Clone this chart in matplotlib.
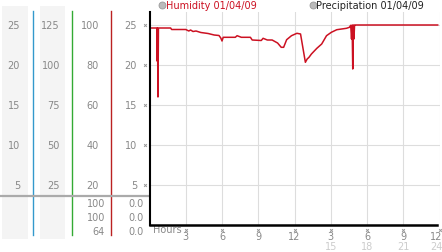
import numpy as np
import matplotlib

matplotlib.use("Agg")
import matplotlib.pyplot as plt
from matplotlib import transforms
from matplotlib.patches import Rectangle

# humidity trace for 01/04/09 (hours since midnight, percent)
hours = [0.1, 0.6, 0.62, 0.66, 0.7, 0.74, 1.75, 1.83, 3.0, 3.25, 3.4, 3.6,
         3.85, 4.25, 4.85, 5.35, 5.75, 5.9, 6.0, 6.1, 7.1, 7.25, 7.6, 8.35,
         8.5, 9.25, 9.4, 9.75, 10.15, 10.6, 10.9, 11.1, 11.35, 11.75, 12.2,
         12.5, 12.9, 13.05, 13.2, 13.4, 13.85, 14.25, 14.65, 15.05, 15.5,
         16.3, 16.55, 16.65, 16.72, 16.77, 16.82, 16.87, 16.92, 16.97, 17.0,
         23.85]
humidity = [98.5, 98.5, 82, 98.5, 64, 98.5, 98.5, 97.75, 97.75, 97, 97.5, 96.75,
            97, 96.25, 95.75, 95, 94.75, 93.5, 92, 93.85, 93.85, 94.65, 93.85, 93.85,
            92.5, 92.25, 93.35, 92.5, 92.5, 91, 88.85, 88.85, 92.65, 94.65, 95.85,
            95.5, 81.35, 83, 83.85, 85.5, 88.35, 90.5, 94.65, 96.35, 97.65,
            98.35, 98.85, 99.85, 93, 100, 78, 100, 93, 100, 100,
            100]

# scale columns on the left, top to bottom
temp_scale = [25, 20, 15, 10, 5]
press_scale = [125, 100, 75, 50, 25]
hum_scale = [100, 80, 60, 40, 20]
main_scale = [25, 20, 15, 10, 5]

# summary rows under the separator
hum_stats = ['100', '100', '64']
rain_stats = ['0.0', '0.0', '0.0']

x_ticks = [3, 6, 9, 12, 15, 18, 21, 24]
x_labels = ['3', '6', '9', '12', '3', '6', '9', '12']
x_ticks_pm = [15, 18, 21, 24]

W, H = 442, 253
GREY = '#888888'
RED = '#cc1122'
FS = 7

fig = plt.figure(figsize=(W / 100, H / 100), dpi=100)

# pixel layer for the side scales
bg = fig.add_axes([0, 0, 1, 1])
bg.set_xlim(0, W)
bg.set_ylim(H, 0)
bg.axis('off')

ax = fig.add_axes([149.5 / W, (H - 226) / H, 290 / W, 213 / H])
ax.set_xlim(0, 24)
ax.set_ylim(0, 106.5)
ax.patch.set_alpha(0)

ytr = transforms.blended_transform_factory(bg.transData, ax.transData)
xtr = transforms.blended_transform_factory(ax.transData, bg.transData)

# shaded columns and coloured scale lines
for x0, x1 in [(2, 28), (40, 65)]:
    bg.add_patch(Rectangle((x0, 7), x1 - x0, 233, color='#f4f4f4', lw=0))
for x, c in [(33, '#3399cc'), (72, '#33aa33'), (111, '#bb2222')]:
    bg.plot([x, x], [12, 236], color=c, lw=1)
bg.plot([0, 149], [197, 197], color='#aaaaaa', lw=1.6)

for vals, xr in [(temp_scale, 20), (press_scale, 60), (hum_scale, 99), (main_scale, 137)]:
    for pos, v in zip(hum_scale, vals):
        bg.text(xr, pos, str(v), transform=ytr, ha='right', va='center',
                fontsize=FS, color=GREY)
ax.plot([-4.5 / 290 * 24] * len(hum_scale), hum_scale, 'x', ms=2, mew=0.7,
        color='#999999', clip_on=False)

for i, (h, r) in enumerate(zip(hum_stats, rain_stats)):
    y = 204 + i * 14
    bg.text(105, y, h, ha='right', va='center', fontsize=FS, color=GREY)
    bg.text(144, y, r, ha='right', va='center', fontsize=FS, color=GREY)

# legend
bg.plot([162], [6], 'o', ms=5, mfc='#bbbbbb', mec='#999999', mew=0.6)
bg.text(166, 6, 'Humidity 01/04/09', va='center', fontsize=FS, color=RED)
bg.plot([313], [6], 'o', ms=5, mfc='#bbbbbb', mec='#999999', mew=0.6)
bg.text(316, 6, 'Precipitation 01/04/09', va='center', fontsize=FS, color='#222222')

# main plot
ax.plot(hours, humidity, color=RED, lw=1.1, clip_on=False)
ax.set_xticks(x_ticks)
ax.set_yticks(hum_scale)
ax.set_xticklabels([])
ax.set_yticklabels([])
ax.tick_params(length=0)
ax.grid(True, color='#dddddd', lw=0.8)
ax.set_axisbelow(True)
for s in ['top', 'right']:
    ax.spines[s].set_visible(False)
ax.spines['left'].set_linewidth(1.5)
ax.spines['bottom'].set_linewidth(1.8)
ax.spines['bottom'].set_bounds(0, 23.8)

for t, lab in zip(x_ticks, x_labels):
    ha = 'right' if t == 24 else 'center'
    ax.text(t + (0.25 if t == 24 else 0), 237, lab, transform=xtr, ha=ha, va='center',
            fontsize=FS, color=GREY)
    ax.plot([t], [231], 'x', ms=2, mew=0.7, color='#999999', transform=xtr, clip_on=False)
for t in x_ticks_pm:
    ha = 'right' if t == 24 else 'center'
    ax.text(t + (0.25 if t == 24 else 0), 247, str(t), transform=xtr, ha=ha, va='center',
            fontsize=FS, color='#cccccc')
bg.text(153, 230, 'Hours', va='center', fontsize=FS, color=GREY)

fig.savefig('out.png', dpi=100)
